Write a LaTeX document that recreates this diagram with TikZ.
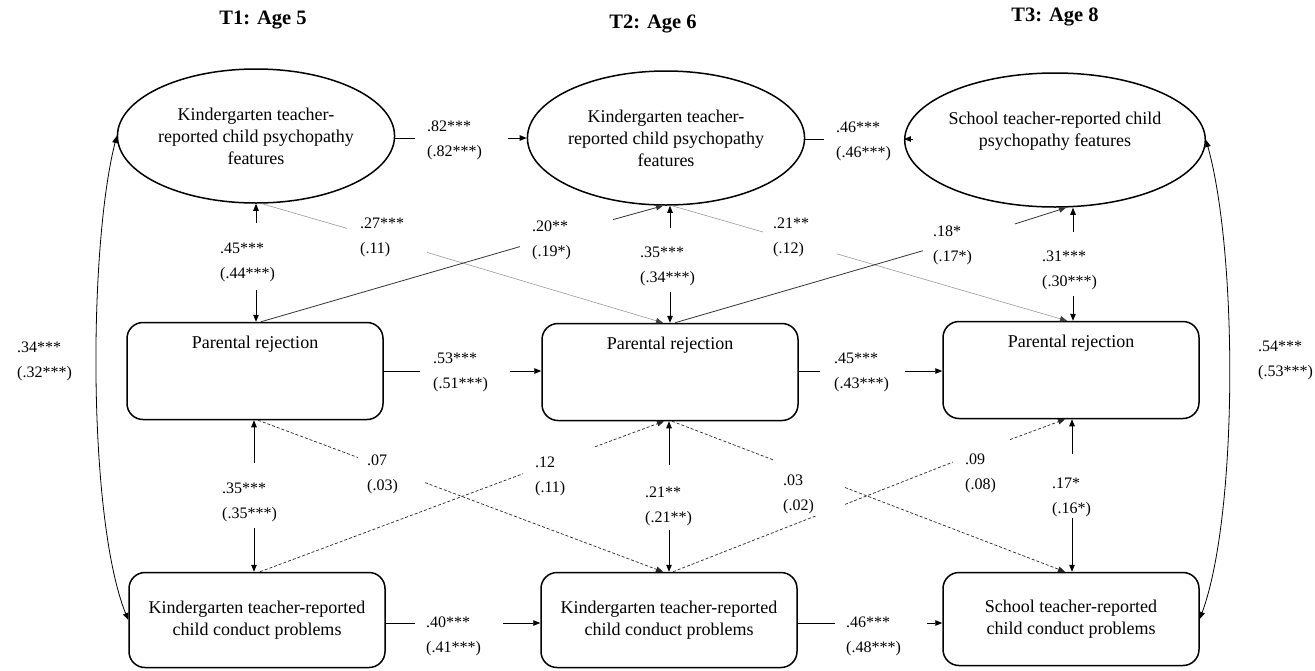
\documentclass[tikz,border=0pt]{standalone}
\usepackage{fontspec}
\setmainfont{Liberation Serif}
\usetikzlibrary{arrows.meta,shapes.geometric}
\begin{document}
\begin{tikzpicture}[x=1pt,y=-1pt,
  nodefont/.style={font=\fontsize{18}{22}\selectfont},
  psy/.style={draw, ellipse, line width=1.5pt, minimum width=255pt, minimum height=134pt, inner sep=0pt, align=center, nodefont},
  var/.style={draw, rectangle, rounded corners=16pt, line width=1.5pt, minimum width=256pt, minimum height=97pt, inner sep=0pt, align=center, nodefont},
  prbox/.style={var, text height=26pt, text depth=71pt},
  coef/.style={font=\fontsize{16}{25}\selectfont, align=left, anchor=west, inner sep=0pt},
  ttl/.style={font=\fontsize{20.5}{24}\selectfont\bfseries, inner sep=0pt},
  tip/.style={-{Triangle[length=7pt,width=5.5pt]}},
  lighttip/.style={-{Triangle[length=7pt,width=5.5pt,color=black!75]}},
  bothtip/.style={{Triangle[length=7pt,width=5.5pt]}-{Triangle[length=7pt,width=5.5pt]}},
  solidpath/.style={line width=0.8pt},
  lightpath/.style={draw=black!40, line width=0.6pt},
  darkpath/.style={draw=black!80, line width=0.8pt},
  dashpath/.style={draw=black!85, line width=0.7pt, dash pattern=on 3pt off 2pt},
]
\useasboundingbox (0,0) rectangle (1315,670);

% titles
\node[ttl] (t1) at (263,20) {T1: Age 5};
\node[ttl] (t2) at (653,24) {T2: Age 6};
\node[ttl] (t3) at (1055,17) {T3: Age 8};

% psychopathy
\node[psy] (e1) at (256,136) {Kindergarten teacher-\\reported child psychopathy\\features};
\node[psy] (e2) at (666,138) {Kindergarten teacher-\\reported child psychopathy\\features};
\node[psy] (e3) at (1055,140) {School teacher-reported child\\psychopathy features\\\mbox{}};

% parental rejection
\node[prbox] (r1) at (255,371) {Parental rejection};
\node[prbox] (r2) at (670,372) {Parental rejection};
\node[prbox] (r3) at (1071,370) {Parental rejection};

% conduct problems
\node[var, minimum height=95pt] (b1) at (257,620) {Kindergarten teacher-reported\\child conduct problems};
\node[var, minimum height=95pt] (b2) at (669,620) {Kindergarten teacher-reported\\child conduct problems};
\node[var, minimum height=93pt] (b3) at (1071,619) {School teacher-reported\\child conduct problems};

% ---- horizontal stability paths
\coordinate (h1a) at (415,138); \coordinate (h1b) at (508,138);
\draw[solidpath] (h1a -| e1.east) -- (h1a);
\draw[solidpath,tip] (h1b) -- (h1b -| e2.west);
\node[coef] (l82) at (427,140) {.82***\\(.82***)};

\coordinate (h2a) at (824,139); \coordinate (h2b) at (913,139);
\draw[solidpath] (h2a -| e2.east) -- (h2a);
\draw[solidpath,tip] (h2b) -- (h2b -| e3.west);
\node[coef] (l46a) at (836,141) {.46***\\(.46***)};

\coordinate (h3a) at (420,371); \coordinate (h3b) at (510,371);
\draw[solidpath] (h3a -| r1.east) -- (h3a);
\draw[solidpath,tip] (h3b) -- (h3b -| r2.west);
\node[coef] (l53) at (433,372) {.53***\\(.51***)};

\coordinate (h4a) at (820,371); \coordinate (h4b) at (905,371);
\draw[solidpath] (h4a -| r2.east) -- (h4a);
\draw[solidpath,tip] (h4b) -- (h4b -| r3.west);
\node[coef] (l45b) at (834,372) {.45***\\(.43***)};

\coordinate (h5a) at (415,623); \coordinate (h5b) at (503,623);
\draw[solidpath] (h5a -| b1.east) -- (h5a);
\draw[solidpath,tip] (h5b) -- (h5b -| b2.west);
\node[coef] (l40) at (426,636) {.40***\\(.41***)};

\coordinate (h6a) at (835,623); \coordinate (h6b) at (927,623);
\draw[solidpath] (h6a -| b2.east) -- (h6a);
\draw[solidpath,tip] (h6b) -- (h6b -| b3.west);
\node[coef] (l46b) at (846,636) {.46***\\(.48***)};

% ---- vertical within-time paths
\coordinate (v1a) at (256,223); \coordinate (v1b) at (256,290);
\draw[solidpath,tip] (v1a) -- (v1a |- e1.south);
\draw[solidpath,tip] (v1b) -- (v1b |- r1.north);
\node[coef] (l45) at (220,262) {.45***\\(.44***)};

\coordinate (v2a) at (670,228); \coordinate (v2b) at (670,292);
\draw[solidpath,tip] (v2a) -- (v2a |- e2.south);
\draw[solidpath,tip] (v2b) -- (v2b |- r2.north);
\node[coef] (l35) at (640,266) {.35***\\(.34***)};

\coordinate (v3a) at (1073,232); \coordinate (v3b) at (1073,296);
\draw[solidpath,tip] (v3a) -- (v3a |- e3.south);
\draw[solidpath,tip] (v3b) -- (v3b |- r3.north);
\node[coef] (l31) at (1042,270) {.31***\\(.30***)};

\coordinate (v4a) at (254,463); \coordinate (v4b) at (254,528);
\draw[solidpath,tip] (v4a) -- (v4a |- r1.south);
\draw[solidpath,tip] (v4b) -- (v4b |- b1.north);
\node[coef] (l35b) at (222,502) {.35***\\(.35***)};

\coordinate (v5a) at (669,465); \coordinate (v5b) at (669,530);
\draw[solidpath,tip] (v5a) -- (v5a |- r2.south);
\draw[solidpath,tip] (v5b) -- (v5b |- b2.north);
\node[coef] (l21) at (645,506) {.21**\\(.21**)};

\coordinate (v6a) at (1072,454); \coordinate (v6b) at (1072,518);
\draw[solidpath,tip] (v6a) -- (v6a |- r3.south);
\draw[solidpath,tip] (v6b) -- (v6b |- b3.north);
\node[coef] (l17) at (1052,497) {.17*\\(.16*)};

% ---- cross-lagged paths (upper band)
\coordinate (c1a) at (347,228.4); \coordinate (c1b) at (427,252.4);
\draw[lightpath] ([xshift=6pt]e1.south) -- (c1a);
\draw[lightpath,lighttip] (c1b) -- ([xshift=-7pt]r2.north);
\node[coef] (l27) at (360,237) {.27***\\(.11)};

\coordinate (c2a) at (520,246.6); \coordinate (c2b) at (613,219.6);
\draw[darkpath] ([xshift=6pt]r1.north) -- (c2a);
\draw[darkpath,tip] (c2b) -- ([xshift=-3pt]e2.south);
\node[coef] (l20) at (532,240) {.20**\\(.19*)};

\coordinate (c3a) at (763,232); \coordinate (c3b) at (837,253.9);
\draw[lightpath] ([xshift=6pt]e2.south) -- (c3a);
\draw[lightpath,lighttip] (c3b) -- ([xshift=-4pt]r3.north);
\node[coef] (l21b) at (773,237) {.21**\\(.12)};

\coordinate (c4a) at (923,250.7); \coordinate (c4b) at (1015,223.9);
\draw[darkpath] ([xshift=5pt]r2.north) -- (c4a);
\draw[darkpath,tip] (c4b) -- ([xshift=11pt]e3.south);
\node[coef] (l18) at (933,245) {.18*\\(.17*)};

% ---- cross-lagged paths (lower band)
\coordinate (d1a) at (358,457.5); \coordinate (d1b) at (425,482.6);
\draw[dashpath] ([xshift=3pt]r1.south) -- (d1a);
\draw[dashpath,tip] (d1b) -- ([xshift=-6pt]b2.north);
\node[coef] (l07) at (367,474) {.07\\(.03)};

\coordinate (d2a) at (523,473.7); \coordinate (d2b) at (595,446.8);
\draw[dashpath] ([xshift=3pt]b1.north) -- (d2a);
\draw[dashpath,tip] (d2b) -- ([xshift=-6pt]r2.south);
\node[coef] (l12) at (535,476) {.12\\(.11)};

\coordinate (d3a) at (773,459.8); \coordinate (d3b) at (845,487.5);
\draw[dashpath] ([xshift=2pt]r2.south) -- (d3a);
\draw[dashpath,tip] (d3b) -- ([xshift=-6pt]b3.north);
\node[coef] (l03) at (783,494) {.03\\(.02)};

\coordinate (d4a) at (817,515.4); \coordinate (d4b) at (845,504.4);
\coordinate (d4c) at (953,462); \coordinate (d4d) at (1010,439.6);
\draw[dashpath] ([xshift=4pt]b2.north) -- (d4a);
\draw[dashpath] (d4b) -- (d4c);
\draw[dashpath,tip] (d4d) -- ([xshift=-6pt]r3.south);
\node[coef] (l09) at (965,473) {.09\\(.08)};

% ---- correlations
\draw[solidpath,bothtip] (e1.west) .. controls (88,250) and (88,520) .. (b1.west);
\node[coef] (l34) at (17,361) {.34***\\(.32***)};
\draw[solidpath,bothtip] (e3.east) .. controls (1238,255) and (1238,515) .. (b3.east);
\node[coef] (l54) at (1258,360) {.54***\\(.53***)};
\end{tikzpicture}
\end{document}
